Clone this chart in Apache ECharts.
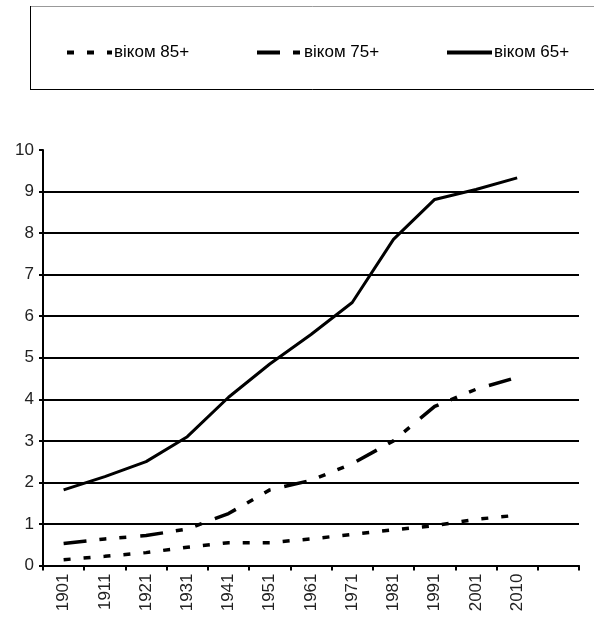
<!DOCTYPE html>
<html>
<head>
<meta charset="utf-8">
<script src="https://cdn.jsdelivr.net/npm/echarts@6/dist/echarts.min.js"></script>
<style>html,body{margin:0;padding:0;background:#fff;}#c{width:594px;height:619px;}</style>
</head>
<body>
<div id="c"></div>
<script>
var years = ['1901','1911','1921','1931','1941','1951','1961','1971','1981','1991','2001','2010',''];
var age85 = [0.14,0.22,0.31,0.44,0.55,0.55,0.64,0.75,0.86,0.96,1.11,1.21];
var age75 = [0.53,0.64,0.72,0.88,1.25,1.82,2.05,2.45,3.0,3.83,4.24,4.53];
var age65 = [1.82,2.14,2.5,3.1,4.05,4.85,5.56,6.33,7.85,8.81,9.05,9.33];
var names = ['віком 85+','віком 75+','віком 65+'];
var yTicks = [0,10,1];

var font = 'Liberation Sans, Arial, sans-serif';
var chart = echarts.init(document.getElementById('c'), null, {renderer:'canvas'});
var gridColors = [];
for (var i = 0; i <= 10; i++) gridColors.push(i === 10 ? 'rgba(0,0,0,0)' : '#000');

function legendFor(name, left) {
  return {
    data: [name], left: left, top: 39, itemWidth: 45, itemHeight: 16, itemGap: 0,
    itemStyle: {opacity: 0},
    lineStyle: {width: 4},
    textStyle: {fontFamily: font, fontSize: 17, color: '#000', padding: [0,0,0,-3]}, selectedMode: false
  };
}

chart.setOption({
  animation: false,
  backgroundColor: '#fff',
  graphic: [
    {type:'rect', shape:{x:30.5, y:6.5, width:600, height:83}, style:{fill:'none', stroke:'#999', lineWidth:1}},
    {type:'line', shape:{x1:30.5, y1:6, x2:30.5, y2:90}, style:{stroke:'#000', lineWidth:1}},
    {type:'line', shape:{x1:30, y1:89.5, x2:600, y2:89.5}, style:{stroke:'#000', lineWidth:1}}
  ],
  legend: [legendFor(names[0], 60), legendFor(names[1], 250), legendFor(names[2], 440)],
  grid: {left: 43, right: 15, top: 150, bottom: 53.5, containLabel: false},
  xAxis: {
    type: 'category', data: years, boundaryGap: true,
    axisLine: {lineStyle: {color: '#000', width: 2}},
    axisTick: {show: true, length: 5, lineStyle: {color: '#000', width: 2}},
    axisLabel: {rotate: 90, interval: 0, fontFamily: font, fontSize: 17, color: '#222', margin: 8},
    splitLine: {show: false}
  },
  yAxis: {
    type: 'value', min: yTicks[0], max: yTicks[1], interval: yTicks[2],
    axisLine: {show: true, lineStyle: {color: '#000', width: 2}},
    axisTick: {show: true, length: 4, lineStyle: {color: '#000', width: 2}},
    axisLabel: {fontFamily: font, fontSize: 17, color: '#222', margin: 9},
    splitLine: {show: true, lineStyle: {color: gridColors, width: 2}}
  },
  series: [
    {name: names[0], type: 'line', data: age85, symbol: 'none',
     lineStyle: {color: '#000', width: 3.5, type: [7, 13]}, itemStyle: {color: '#000'}},
    {name: names[1], type: 'line', data: age75, symbol: 'none',
     lineStyle: {color: '#000', width: 3.5, type: [23, 13, 7, 13, 7, 14]}, itemStyle: {color: '#000'}},
    {name: names[2], type: 'line', data: age65, symbol: 'none',
     lineStyle: {color: '#000', width: 3}, itemStyle: {color: '#000'}}
  ]
});
</script>
</body>
</html>
